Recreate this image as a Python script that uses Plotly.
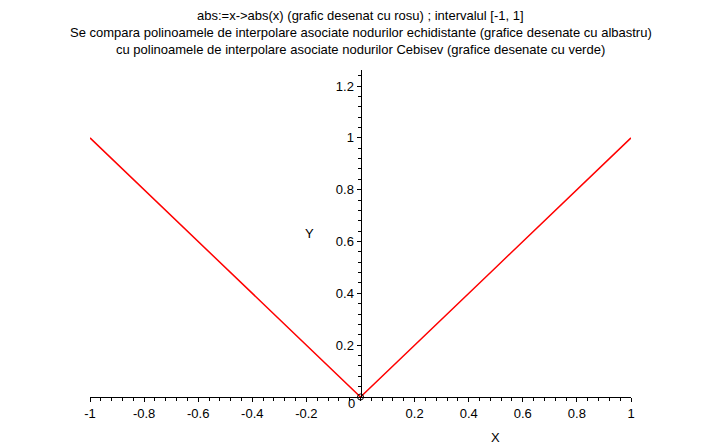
import plotly.graph_objects as go

# data (graph of abs(x) on [-1, 1])
x_vals = [-1.0, -0.5, 0.0, 0.5, 1.0]
y_vals = [1.0, 0.5, 0.0, 0.5, 1.0]

x_ticks = [-1, -0.8, -0.6, -0.4, -0.2, 0.2, 0.4, 0.6, 0.8, 1]
x_tick_text = ["-1", "-0.8", "-0.6", "-0.4", "-0.2", "0.2", "0.4", "0.6", "0.8", "1"]
y_ticks = [0.2, 0.4, 0.6, 0.8, 1.0, 1.2]
y_tick_text = ["0.2", "0.4", "0.6", "0.8", "1", "1.2"]

title_lines = [
    "abs:=x->abs(x) (grafic desenat cu rosu) ; intervalul [-1, 1]",
    "Se compara polinoamele de interpolare asociate nodurilor echidistante (grafice desenate cu albastru)",
    "cu polinoamele de interpolare asociate nodurilor Cebisev (grafice desenate cu verde)",
]

FONT = "Liberation Sans, Arial, sans-serif"

fig = go.Figure()
fig.add_trace(go.Scatter(x=x_vals, y=y_vals, mode="lines",
                         line=dict(color="#ff0000", width=1.5),
                         hoverinfo="skip", showlegend=False))
fig.add_trace(go.Scatter(x=[0], y=[0], mode="markers",
                         marker=dict(symbol="circle-open", size=6, color="black",
                                     line=dict(width=1, color="black")),
                         hoverinfo="skip", showlegend=False, cliponaxis=False))

fig.update_layout(
    width=720, height=446,
    margin=dict(l=82, r=97, t=62, b=57),
    paper_bgcolor="white", plot_bgcolor="white",
    font=dict(family=FONT, size=13, color="black"),
    showlegend=False,
    xaxis=dict(range=[-1, 1], showgrid=False, zeroline=False,
               showline=True, linecolor="black", linewidth=1,
               ticks="outside", ticklen=4, tickwidth=1, tickcolor="black",
               tickvals=x_ticks, ticktext=x_tick_text,
               tickfont=dict(family=FONT, size=13, color="black"),
               minor=dict(dtick=0.04, tick0=-1, ticks="outside", ticklen=3,
                          tickcolor="black", showgrid=False),
               fixedrange=True),
    yaxis=dict(range=[0, 1.262], showgrid=False, zeroline=False,
               anchor="free", position=0.5, side="left",
               showline=True, linecolor="black", linewidth=1,
               ticks="outside", ticklen=4, tickwidth=1, tickcolor="black",
               tickvals=y_ticks, ticktext=y_tick_text,
               tickfont=dict(family=FONT, size=13, color="black"),
               minor=dict(dtick=0.04, tick0=0, ticks="outside", ticklen=3,
                          tickcolor="black", showgrid=False),
               fixedrange=True),
)

annotations = []
for i, line in enumerate(title_lines):
    annotations.append(dict(text=line, xref="paper", yref="paper",
                            x=0.5, y=1, yshift=[55, 38, 21][i],
                            xanchor="center", yanchor="middle", showarrow=False,
                            font=dict(family=FONT, size=13, color="black")))
annotations.append(dict(text="Y", xref="x", yref="y", x=-0.19, y=0.63,
                        showarrow=False, xanchor="center", yanchor="middle",
                        font=dict(family=FONT, size=13, color="black")))
annotations.append(dict(text="X", xref="x", yref="paper", x=0.5, y=0, yshift=-40,
                        showarrow=False, xanchor="center", yanchor="middle",
                        font=dict(family=FONT, size=13, color="black")))
annotations.append(dict(text="0", xref="x", yref="paper", x=0, xshift=-9, y=0, yshift=-6,
                        showarrow=False, xanchor="center", yanchor="middle",
                        font=dict(family=FONT, size=13, color="black")))
fig.update_layout(annotations=annotations)

fig.write_html("out.html")
